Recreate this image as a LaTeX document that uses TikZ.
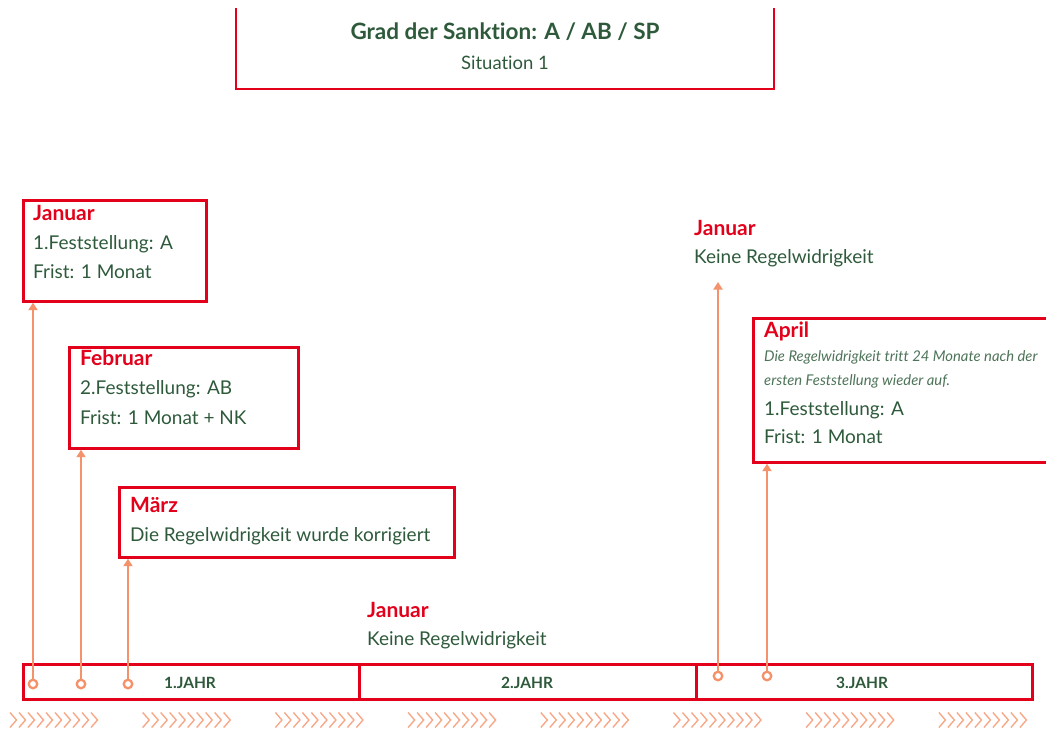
\documentclass[tikz,border=0pt]{standalone}
\usepackage{fontspec}
\setmainfont[Ligatures=NoCommon]{Lato}
\usetikzlibrary{arrows.meta}
\definecolor{cred}{HTML}{E2001A}
\definecolor{cgreen}{HTML}{2E5A3B}
\definecolor{csal}{HTML}{F4926C}
\definecolor{cchev}{HTML}{F7A889}
\tikzset{
  box/.style={draw=cred, line width=2.7pt, anchor=north west, inner sep=0pt},
  hd/.style={anchor=base west, inner sep=0pt, text=cred, font=\fontsize{21}{24}\selectfont\bfseries},
  tx/.style={anchor=base west, inner sep=0pt, text=cgreen, font=\fontsize{19}{22}\selectfont},
  sm/.style={anchor=base west, inner sep=0pt, text=cgreen!85!white, font=\fontsize{14.8}{17}\selectfont\itshape},
  yr/.style={anchor=base, inner sep=0pt, text=cgreen, font=\fontsize{15.5}{18}\selectfont\bfseries},
  dot/.style={circle, draw=csal, fill=white, line width=2.3pt, minimum size=8.5pt, inner sep=0pt},
  conn/.style={draw=csal, line width=2.4pt, -{Triangle[width=9pt,length=7.5pt]}},
  chev/.style={draw=cchev, line width=1.4pt},
}
\begin{document}
\begin{tikzpicture}[x=1pt,y=-1pt]
\useasboundingbox (0,0) rectangle (1046,733);
% title
\draw[cred, line width=2.7pt] (236,8) -- (236,89) -- (774,89) -- (774,8);
\node[anchor=base, inner sep=0pt, text=cgreen, font=\fontsize{22.5}{26}\selectfont\bfseries] (title) at (505,40) {Grad der Sanktion: A / AB / SP};
\node[anchor=base, inner sep=0pt, text=cgreen, font=\fontsize{18.5}{22}\selectfont] (sit) at (505,70) {Situation 1};
% boxes
\node[box, minimum width=183pt, minimum height=101pt] (jan) at (22,199) {};
\node[hd] at (33,220) {Januar};
\node[tx] at (33,249) {1.Feststellung: A};
\node[tx] at (33,278) {Frist: 1 Monat};
\node[box, minimum width=229pt, minimum height=101pt] (feb) at (68,346) {};
\node[hd] at (80,365) {Februar};
\node[tx] at (80,394) {2.Feststellung: AB};
\node[tx] at (80,424) {Frist: 1 Monat + NK};
\node[box, minimum width=335pt, minimum height=70pt] (mar) at (118,486) {};
\node[hd] at (130,512) {März};
\node[tx] at (130,541) {Die Regelwidrigkeit wurde korrigiert};
% middle text
\node[hd] at (367,617) {Januar};
\node[tx] at (367,645) {Keine Regelwidrigkeit};
% right Januar
\node[hd] at (694,235) {Januar};
\node[tx] (keine) at (694,263) {Keine Regelwidrigkeit};
\coordinate (kend) at (718,282);
% April
\node[box, minimum width=310pt, minimum height=144pt] (apr) at (752,317) {};
\node[hd] at (764,337) {April};
\node[sm] at (764,361) {Die Regelwidrigkeit tritt 24 Monate nach der};
\node[sm] at (764,385) {ersten Feststellung wieder auf.};
\node[tx] at (764,415) {1.Feststellung: A};
\node[tx] at (764,443) {Frist: 1 Monat};
% timeline
\node[box, minimum width=336pt, minimum height=35pt] (y1) at (22,663) {};
\node[box, minimum width=337pt, minimum height=35pt] (y2) at (358,663) {};
\node[box, minimum width=336pt, minimum height=35pt] (y3) at (695,663) {};
\node[yr] at (190,688) {1.JAHR};
\node[yr] at (527,688) {2.JAHR};
\node[yr] at (862,688) {3.JAHR};
% dots and connectors
\node[dot] (d1) at (33,684) {};
\node[dot] (d2) at (81,684) {};
\node[dot] (d3) at (128,684) {};
\node[dot] (d4) at (718,676) {};
\node[dot] (d5) at (767,676) {};
\draw[conn] (d1.north) -- (d1.north |- jan.south);
\draw[conn] (d2.north) -- (d2.north |- feb.south);
\draw[conn] (d3.north) -- (d3.north |- mar.south);
\draw[conn] (d4.north) -- (kend);
\draw[conn] (d5.north) -- (d5.north |- apr.south);
% chevrons
\foreach \g in {0,...,7}
  \foreach \i in {0,...,9}
    \draw[chev] ({10+\g*132.7+\i*9},712.5) -- ++(6.5,7.5) -- ++(-6.5,7.5);
\end{tikzpicture}
\end{document}
